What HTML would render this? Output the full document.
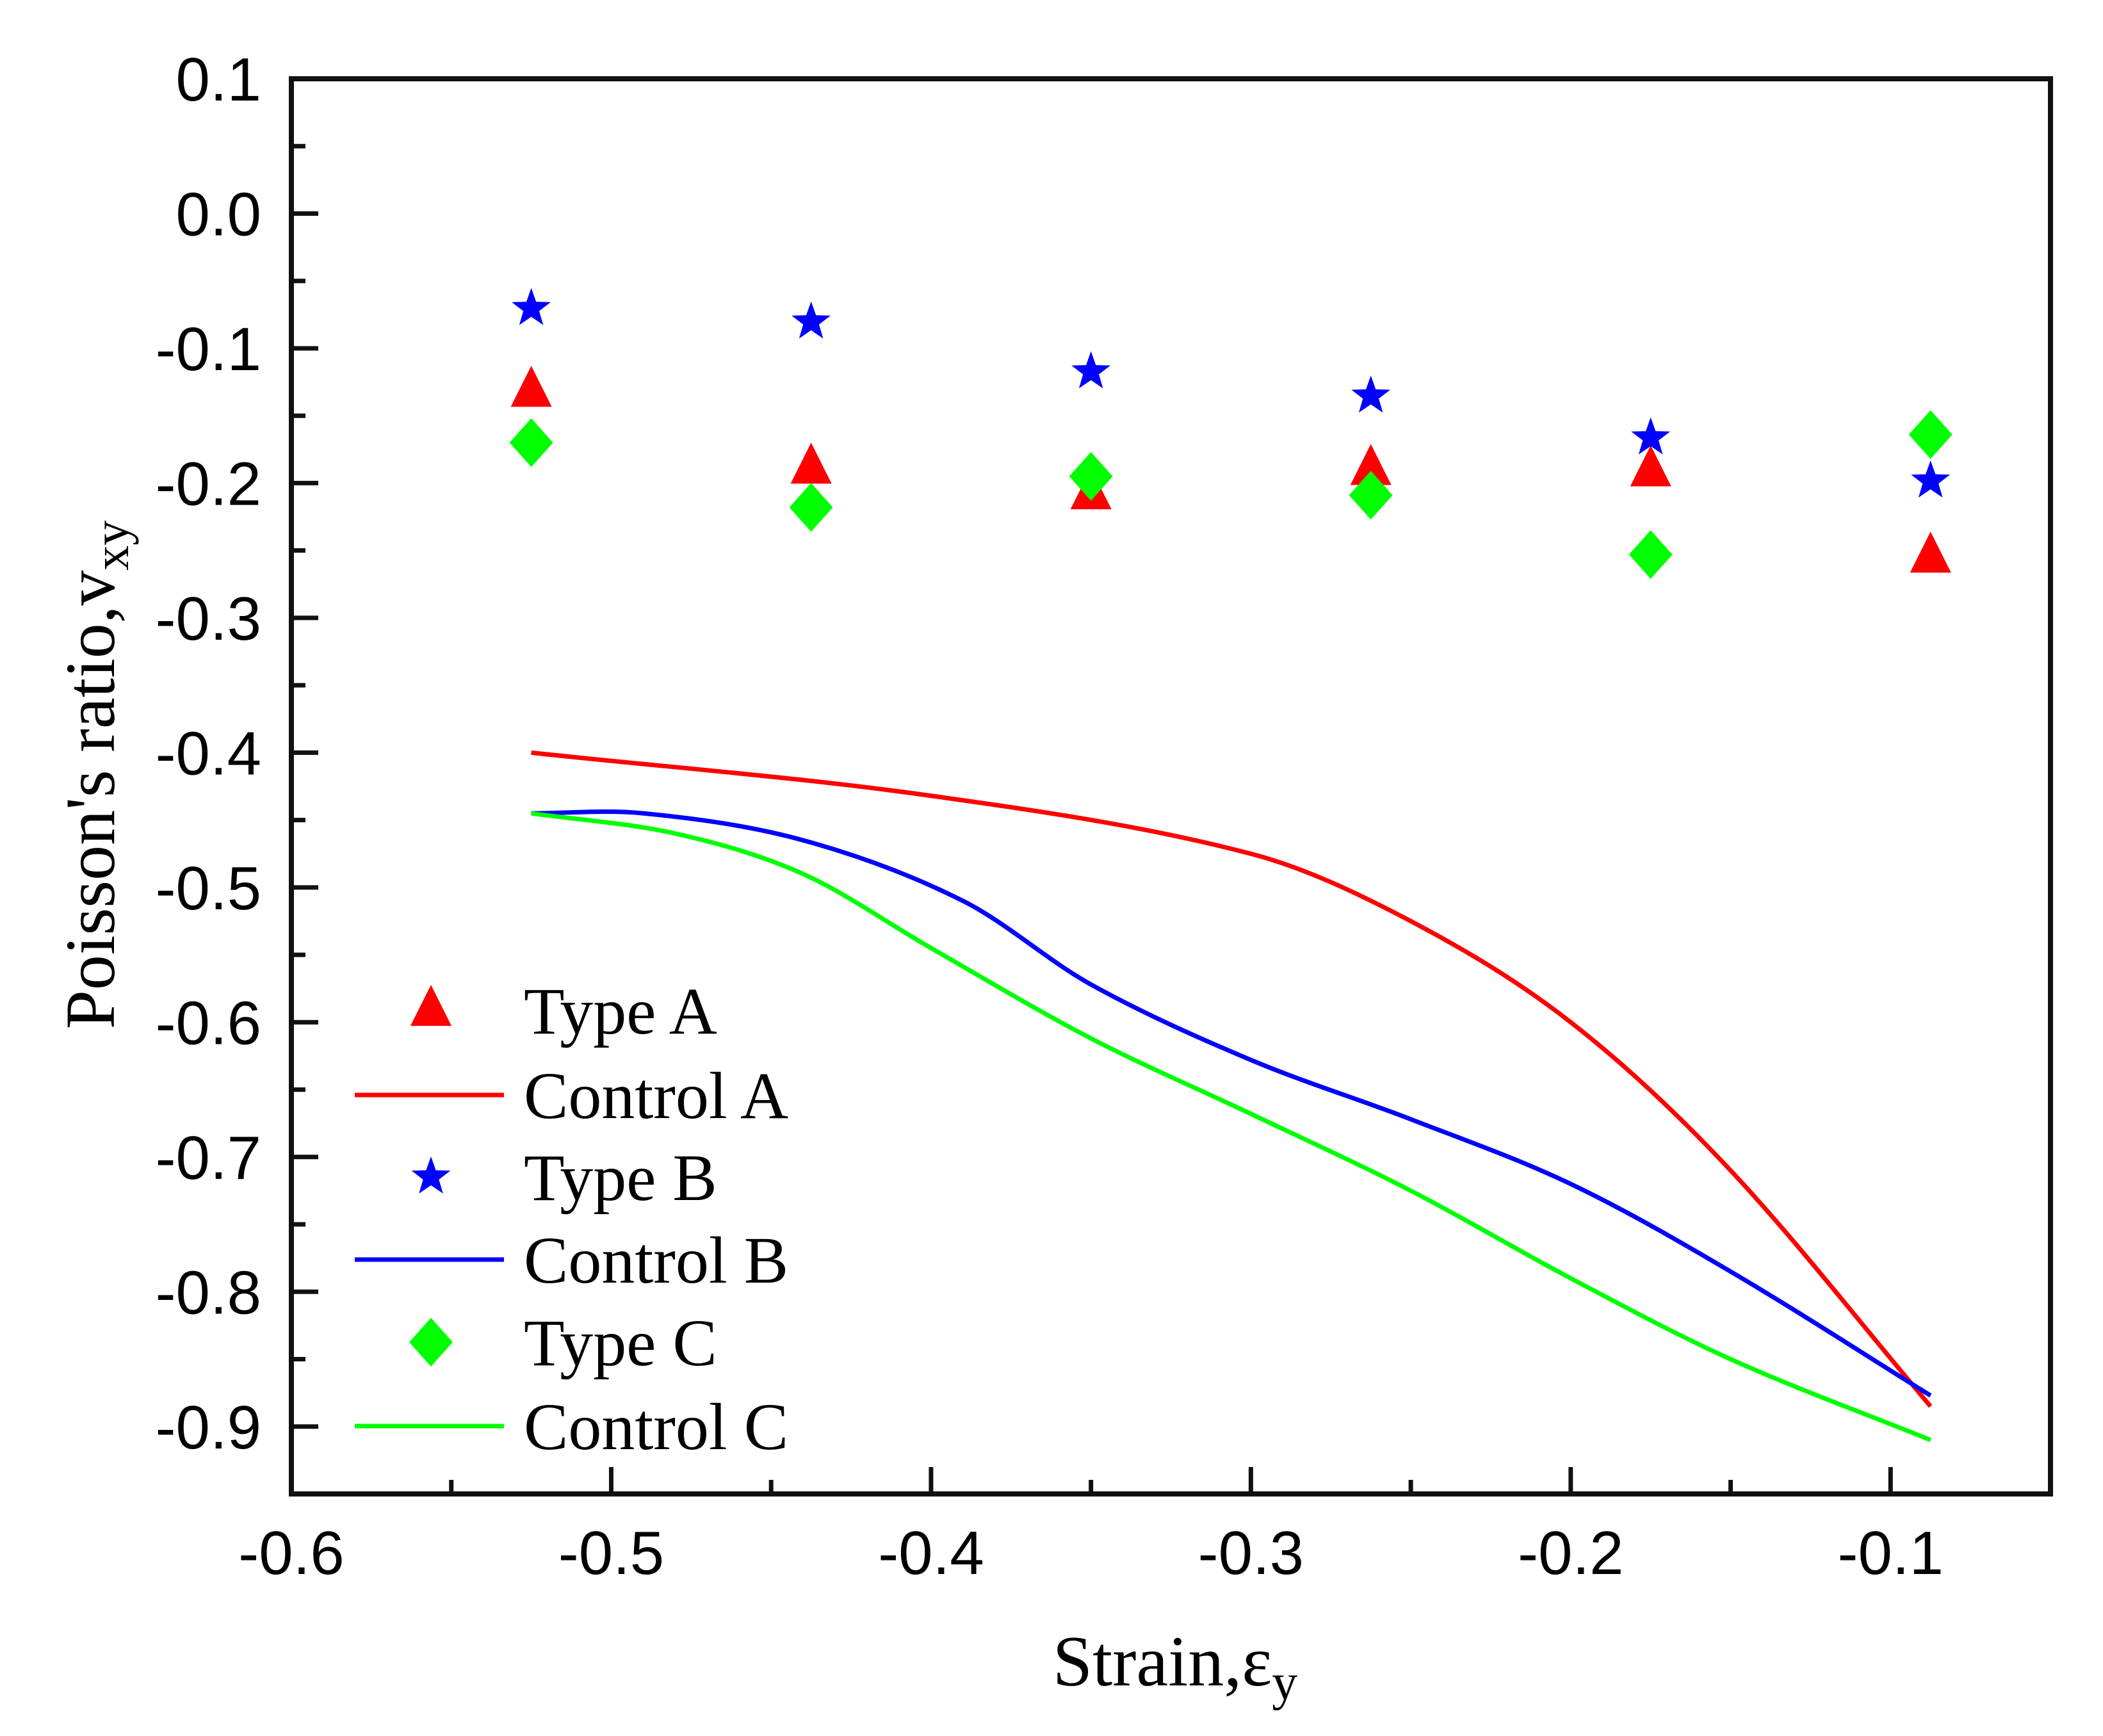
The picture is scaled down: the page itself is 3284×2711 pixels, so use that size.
<!DOCTYPE html>
<html><head><meta charset="utf-8"><style>
html,body{margin:0;padding:0;background:#fff;}
svg{display:block;}
</style></head><body>
<svg id="chart" width="3284" height="2711" viewBox="0 0 3284 2711" xmlns="http://www.w3.org/2000/svg">
<rect x="0" y="0" width="3284" height="2711" fill="#fff"/>
<g id="plot"></g>
</svg>
<script>
const strainX = [-0.525, -0.4375, -0.35, -0.2625, -0.175, -0.0875];
const typeA = [-0.132, -0.189, -0.208, -0.190, -0.191, -0.255];
const typeB = [-0.069, -0.079, -0.116, -0.134, -0.165, -0.197];
const typeC = [-0.170, -0.218, -0.195, -0.209, -0.253, -0.164];
const controlAX = [-0.525, -0.4, -0.3, -0.25, -0.2, -0.15, -0.0875];
const controlAY = [-0.400, -0.432, -0.475, -0.525, -0.600, -0.710, -0.885];
const controlBX = [-0.525, -0.49, -0.44, -0.39, -0.35, -0.3, -0.25, -0.2, -0.15, -0.0875];
const controlBY = [-0.445, -0.445, -0.465, -0.510, -0.572, -0.628, -0.672, -0.720, -0.785, -0.877];
const controlCX = [-0.525, -0.48, -0.44, -0.4, -0.35, -0.3, -0.25, -0.2, -0.15, -0.0875];
const controlCY = [-0.445, -0.460, -0.490, -0.545, -0.612, -0.668, -0.725, -0.790, -0.850, -0.910];
const xTicks = [-0.6, -0.5, -0.4, -0.3, -0.2, -0.1];
const xTickLabels = ["-0.6", "-0.5", "-0.4", "-0.3", "-0.2", "-0.1"];
const yTicks = [0.1, 0.0, -0.1, -0.2, -0.3, -0.4, -0.5, -0.6, -0.7, -0.8, -0.9];
const yTickLabels = ["0.1", "0.0", "-0.1", "-0.2", "-0.3", "-0.4", "-0.5", "-0.6", "-0.7", "-0.8", "-0.9"];

const L = 455, R = 3202, T = 123, B = 2333;
const xMin = -0.6, xMax = -0.05, yMin = -0.95, yMax = 0.1;
function sx(v){ return L + (v - xMin) / (xMax - xMin) * (R - L); }
function sy(v){ return B - (v - yMin) / (yMax - yMin) * (B - T); }

const NS = "http://www.w3.org/2000/svg";
const g = document.getElementById("plot");
function mk(tag, attrs, parent){
  const e = document.createElementNS(NS, tag);
  for (const k in attrs) e.setAttribute(k, attrs[k]);
  (parent || g).appendChild(e);
  return e;
}

const frame = mk("rect", {x:L, y:T, width:R-L, height:B-T, fill:"none", stroke:"#111", "stroke-width":8});



for (let i = 0; i < xTicks.length; i++) {
  const x = sx(xTicks[i]);
  const t = mk("line", {x1:x, y1:B, x2:x, y2:B-42, stroke:"#111", "stroke-width":7});
  
  
  const m = sx(xTicks[i] + 0.05);
  if (xTicks[i] + 0.05 < xMax) {
    const mt = mk("line", {x1:m, y1:B, x2:m, y2:B-22, stroke:"#111", "stroke-width":7});
    
    
  }
  const lb = mk("text", {x:x, y:2458, "text-anchor":"middle", "font-family":"Liberation Sans, sans-serif", "font-size":96, fill:"#000"});
  lb.textContent = xTickLabels[i];
  
  
}
for (let i = 0; i < yTicks.length; i++) {
  const y = sy(yTicks[i]);
  const t = mk("line", {x1:L, y1:y, x2:L+42, y2:y, stroke:"#111", "stroke-width":7});
  
  
  const mv = yTicks[i] - 0.05;
  if (mv > yMin) {
    const mt = mk("line", {x1:L, y1:sy(mv), x2:L+22, y2:sy(mv), stroke:"#111", "stroke-width":7});
    
    
  }
  const lb = mk("text", {x:408, y:y+34, "text-anchor":"end", "font-family":"Liberation Sans, sans-serif", "font-size":96, fill:"#000"});
  lb.textContent = yTickLabels[i];
  
  
}

function curvePath(xs, ys){
  const p = xs.map((v,i)=>[sx(v), sy(ys[i])]);
  const n = p.length, m = [];
  for (let i = 0; i < n; i++) {
    const a = p[Math.max(0,i-1)], b = p[Math.min(n-1,i+1)];
    m.push((b[1]-a[1])/(b[0]-a[0]));
  }
  let d = "M" + p[0][0] + "," + p[0][1];
  for (let i = 0; i < n-1; i++) {
    const dx = (p[i+1][0]-p[i][0])/3;
    d += " C" + (p[i][0]+dx) + "," + (p[i][1]+m[i]*dx) + " " + (p[i+1][0]-dx) + "," + (p[i+1][1]-m[i+1]*dx) + " " + p[i+1][0] + "," + p[i+1][1];
  }
  return d;
}
const cA = mk("path", {d:curvePath(controlAX, controlAY), fill:"none", stroke:"#ff0000", "stroke-width":7});


const cB = mk("path", {d:curvePath(controlBX, controlBY), fill:"none", stroke:"#0000ff", "stroke-width":7});


const cC = mk("path", {d:curvePath(controlCX, controlCY), fill:"none", stroke:"#00ff00", "stroke-width":7});



function tri(cx, cy){ return (cx-32)+","+(cy+24)+" "+(cx+32)+","+(cy+24)+" "+cx+","+(cy-40); }
function dia(cx, cy){ return cx+","+(cy-38)+" "+(cx+34)+","+cy+" "+cx+","+(cy+38)+" "+(cx-34)+","+cy; }
function star(cx, cy){
  let s = "";
  for (let k = 0; k < 10; k++) {
    const r = k % 2 ? 13 : 32, a = -Math.PI/2 + k*Math.PI/5;
    s += (cx + r*Math.cos(a)) + "," + (cy + 3 + r*Math.sin(a)) + " ";
  }
  return s;
}
for (let i = 0; i < strainX.length; i++) {
  const x = sx(strainX[i]);
  const a = mk("polygon", {points:tri(x, sy(typeA[i])), fill:"#ff0000"});
  
  
  const c = mk("polygon", {points:dia(x, sy(typeC[i])), fill:"#00ff00"});
  
  
  const b = mk("polygon", {points:star(x, sy(typeB[i])), fill:"#0000ff"});
  
  
}

const legendRows = [1578, 1710, 1838, 1967, 2096, 2227];
const legendLabels = ["Type A", "Control A", "Type B", "Control B", "Type C", "Control C"];
const legendColors = ["#ff0000", "#ff0000", "#0000ff", "#0000ff", "#00ff00", "#00ff00"];
for (let i = 0; i < legendRows.length; i++) {
  const y = legendRows[i];
  if (i % 2 === 1) {
    const ln = mk("line", {x1:554, y1:y, x2:787, y2:y, stroke:legendColors[i], "stroke-width":7});
    
    
  } else {
    const pts = i === 0 ? tri(673, y) : (i === 2 ? star(673, y-3) : dia(673, y));
    const mkr = mk("polygon", {points:pts, fill:legendColors[i]});
    
    
  }
  const t = mk("text", {x:818, y:y+36, "font-family":"Liberation Serif, serif", "font-size":104, fill:"#000"});
  t.textContent = legendLabels[i];
  
  
}
</script>
<svg style="position:absolute;left:0;top:0" width="3284" height="2711" xmlns="http://www.w3.org/2000/svg">
<text x="1835" y="2632" text-anchor="middle" font-family="Liberation Serif, serif" font-size="112" fill="#000">Strain,ε<tspan font-size="80" dy="22">y</tspan></text>
<text transform="translate(178,1210) rotate(-90)" text-anchor="middle" font-family="Liberation Serif, serif" font-size="110" fill="#000">Poisson's ratio,v<tspan font-size="78" dy="22">xy</tspan></text>
</svg>
</body></html>
